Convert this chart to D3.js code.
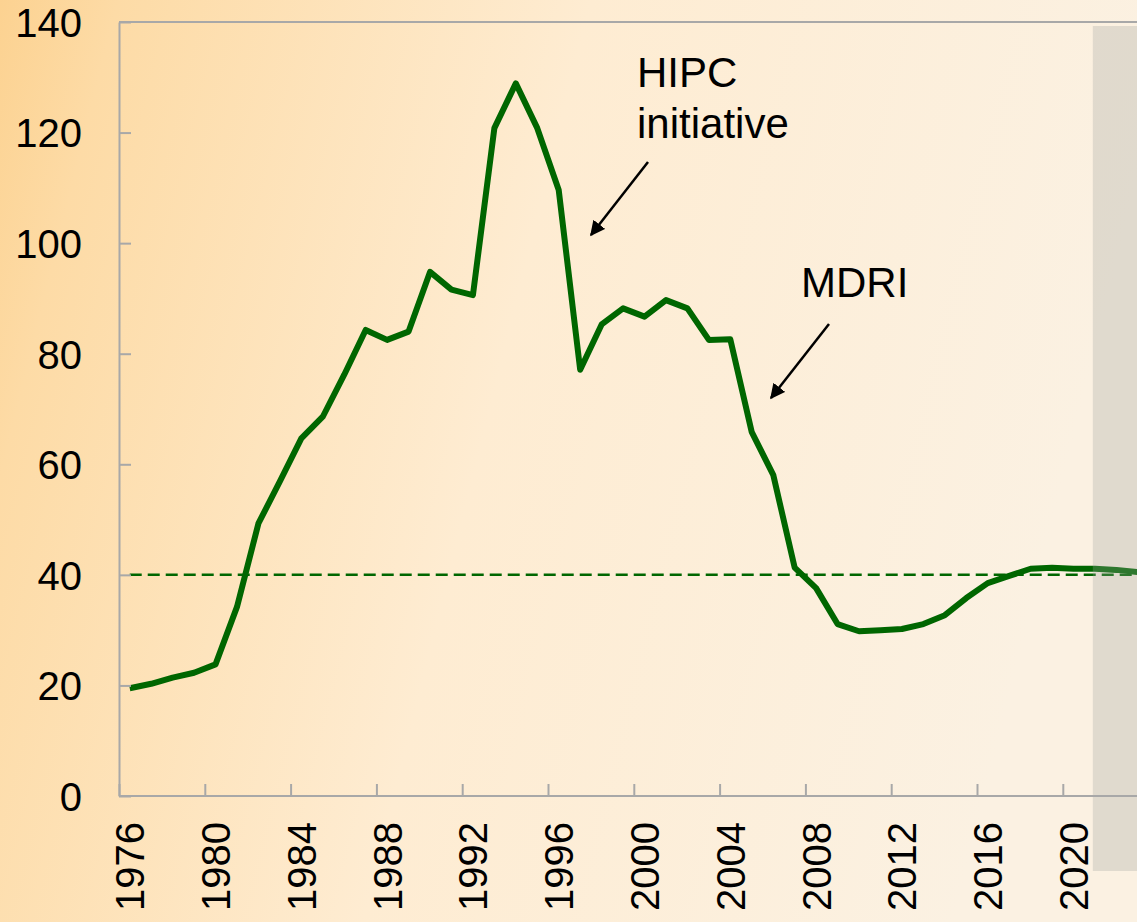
<!DOCTYPE html>
<html lang="en">
    <head>
        <meta charset="UTF-8">
        <title>Debt chart</title>
        <script src="https://d3js.org/d3.v7.min.js"></script>
    </head>

    <style>
        body {
            margin: 0;
            overflow: hidden;
        }

        text {
            font-family: "Liberation Sans", Arial, sans-serif;
            fill: black;
        }

        .axis path, .axis line {
            stroke: #a8a8a8;
            stroke-width: 2px;
        }

        .axis text {
            font-size: 40px;
        }

        .series {
            fill: none;
            stroke: #006600;
            stroke-width: 6px;
            stroke-linejoin: round;
        }

        .threshold {
            stroke: #006600;
            stroke-width: 2.5px;
            stroke-dasharray: 12 6;
        }

        .note {
            font-size: 42px;
        }
    </style>
    <body>
        <svg id="chart" width="1137" height="922"></svg>

        <script>
            // data
            const years = d3.range(1976, 2024);
            const values = [
                19.5, 20.3, 21.4, 22.3, 23.8, 34.2, 49.3, 56.9, 64.7, 68.6,
                76.2, 84.3, 82.5, 84.0, 94.8, 91.6, 90.6, 120.8, 128.9, 120.8,
                109.6, 77.1, 85.3, 88.2, 86.7, 89.7, 88.2, 82.5, 82.6, 65.8,
                58.1, 41.3, 37.6, 31.1, 29.8, 30.0, 30.2, 31.1, 32.7, 35.8,
                38.5, 39.8, 41.1, 41.3, 41.1, 41.1, 40.9, 40.5
            ];
            const yTicks = [0, 20, 40, 60, 80, 100, 120, 140];
            const xLabels = [1976, 1980, 1984, 1988, 1992, 1996, 2000, 2004, 2008, 2012, 2016, 2020];
            const threshold = 40;
            const projectionStart = 2021;

            const svg = d3.select("#chart");
            const width = +svg.attr("width");
            const height = +svg.attr("height");

            // background gradient
            const defs = svg.append("defs");
            const grad = defs.append("linearGradient")
                .attr("id", "bg")
                .attr("x1", "0%").attr("y1", "0%")
                .attr("x2", "100%").attr("y2", "20%");
            grad.append("stop").attr("offset", "0%").attr("stop-color", "#fcd291");
            grad.append("stop").attr("offset", "10%").attr("stop-color", "#fddba6");
            grad.append("stop").attr("offset", "50%").attr("stop-color", "#feecd2");
            grad.append("stop").attr("offset", "100%").attr("stop-color", "#fbf1e2");

            svg.append("rect")
                .attr("width", width)
                .attr("height", height)
                .attr("fill", "url(#bg)");

            // scales: one unit per year, points at the middle of each year
            const x = d3.scaleLinear()
                .domain([1976, 2024])
                .range([119, 1148.6]);
            const y = d3.scaleLinear()
                .domain([0, 140])
                .range([796, 22]);

            // top border of plot area
            svg.append("line")
                .attr("x1", x(1976)).attr("x2", width)
                .attr("y1", y(140)).attr("y2", y(140))
                .attr("stroke", "#a8a8a8")
                .attr("stroke-width", 2);

            // dashed 40 line
            svg.append("line")
                .attr("class", "threshold")
                .attr("x1", x(1976.5)).attr("x2", width)
                .attr("y1", y(threshold)).attr("y2", y(threshold));

            const line = d3.line()
                .x((d, i) => x(years[i] + 0.5))
                .y(d => y(d));

            svg.append("path")
                .datum(values)
                .attr("class", "series")
                .attr("d", line);

            // projection shading
            svg.append("rect")
                .attr("x", x(projectionStart + 0.4))
                .attr("y", 26)
                .attr("width", width)
                .attr("height", 845)
                .attr("fill", "rgb(160,161,157)")
                .attr("fill-opacity", 0.29);

            // axes
            const yAxis = d3.axisLeft(y)
                .tickValues(yTicks)
                .tickSize(-12)
                .tickSizeOuter(0)
                .tickPadding(37);
            svg.append("g")
                .attr("class", "axis")
                .attr("transform", `translate(${x(1976)},0)`)
                .call(yAxis)
                .call(g => g.selectAll("text").attr("dy", "0.36em"));

            const xAxis = d3.axisBottom(x)
                .tickValues(xLabels)
                .tickSize(-12)
                .tickSizeOuter(0)
                .tickFormat("");
            svg.append("g")
                .attr("class", "axis")
                .attr("transform", `translate(0,${y(0)})`)
                .call(xAxis)
                .call(g => g.select(".domain").attr("d", `M${x(1976)},0H${width}`));

            svg.selectAll("text.xlabel").data(xLabels)
                .join("text")
                .attr("class", "xlabel")
                .attr("font-size", 40)
                .attr("text-anchor", "end")
                .attr("dy", "0.36em")
                .attr("transform", d => `translate(${x(d + 0.5)},822) rotate(-90)`)
                .text(d => d);

            // annotations
            const notes = svg.append("g");
            notes.append("text").attr("class", "note")
                .attr("x", 637).attr("y", 87).text("HIPC");
            notes.append("text").attr("class", "note")
                .attr("x", 637).attr("y", 138).text("initiative");
            notes.append("text").attr("class", "note")
                .attr("x", 801).attr("y", 297).text("MDRI");

            defs.append("marker")
                .attr("id", "arrow")
                .attr("viewBox", "0 0 10 10")
                .attr("refX", 9).attr("refY", 5)
                .attr("markerWidth", 6).attr("markerHeight", 6)
                .attr("markerUnits", "strokeWidth")
                .attr("orient", "auto")
                .append("path")
                .attr("d", "M0,0L10,5L0,10z")
                .attr("fill", "black");

            const arrows = [
                {x1: 648, y1: 162, x2: 591, y2: 235},
                {x1: 829, y1: 324, x2: 771, y2: 398}
            ];
            notes.selectAll("line").data(arrows)
                .join("line")
                .attr("x1", d => d.x1).attr("y1", d => d.y1)
                .attr("x2", d => d.x2).attr("y2", d => d.y2)
                .attr("stroke", "black")
                .attr("stroke-width", 2.5)
                .attr("marker-end", "url(#arrow)");
        </script>
    </body>
</html>
